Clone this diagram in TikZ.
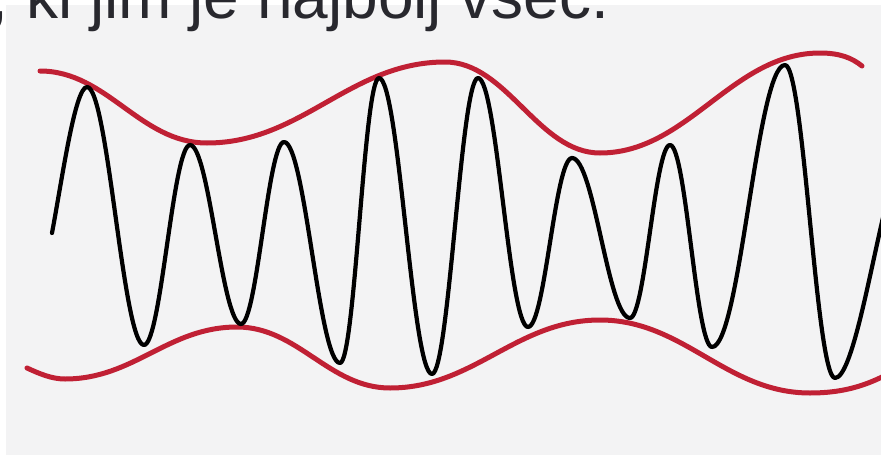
\documentclass[tikz,border=0pt]{standalone}
\usepackage{fontspec}
\setmainfont{Liberation Sans}
\definecolor{bgray}{HTML}{F3F3F4}
\definecolor{envred}{RGB}{192,32,52}
\definecolor{txtcol}{HTML}{28282E}
\tikzset{
  signal/.style={draw=black, line width=4.2pt, line cap=round, line join=round},
  envelope/.style={draw=envred, line width=5pt, line cap=round, line join=round},
}
\begin{document}
\begin{tikzpicture}[x=1pt,y=-1pt]
\useasboundingbox (0,0) rectangle (881,455);
\fill[white] (0,0) rectangle (881,455);
\fill[bgray] (6,5) rectangle (881,455);
\node[anchor=base west, inner sep=0pt, text=txtcol, font=\fontsize{64}{64}\selectfont] (caption) at (-9.6,18) {, ki jim je najbolj všeč.};
% upper envelope
\draw[envelope] (40,71) .. controls (107,71) and (140,143) .. (207,143)
  .. controls (302,143) and (350,62) .. (445,62)
  .. controls (507,62) and (538,153) .. (600,153)
  .. controls (688,153) and (732,53) .. (820,53)
  .. controls (840,53) and (852,58) .. (862,66);
% lower envelope
\draw[envelope] (27,368) .. controls (40,374) and (52,379) .. (65,379)
  .. controls (134,379) and (168,327) .. (237,327)
  .. controls (298,327) and (329,388) .. (390,388)
  .. controls (474,388) and (516,320) .. (600,320)
  .. controls (684,320) and (726,393) .. (810,393)
  .. controls (840,393) and (862,387) .. (884,376);
% signal
\draw[signal] (52,233) .. controls (62,180) and (75,87) .. (87,87)
  .. controls (108,87) and (123,345) .. (144,345)
  .. controls (161,345) and (173,145) .. (190,145)
  .. controls (209,145) and (222,324) .. (241,324)
  .. controls (257,324) and (268,142) .. (284,142)
  .. controls (305,142) and (319,363) .. (340,363)
  .. controls (355,363) and (364,78) .. (379,78)
  .. controls (399,78) and (412,374) .. (432,374)
  .. controls (449,374) and (461,78) .. (478,78)
  .. controls (497,78) and (509,327) .. (528,327)
  .. controls (545,327) and (555,158) .. (572,158)
  .. controls (594,158) and (608,318) .. (630,318)
  .. controls (645,318) and (655,145) .. (670,145)
  .. controls (686,145) and (696,347) .. (712,347)
  .. controls (740,347) and (757,65) .. (785,65)
  .. controls (804,65) and (816,378) .. (835,378)
  .. controls (852,378) and (870,270) .. (886,205);
\end{tikzpicture}
\end{document}
